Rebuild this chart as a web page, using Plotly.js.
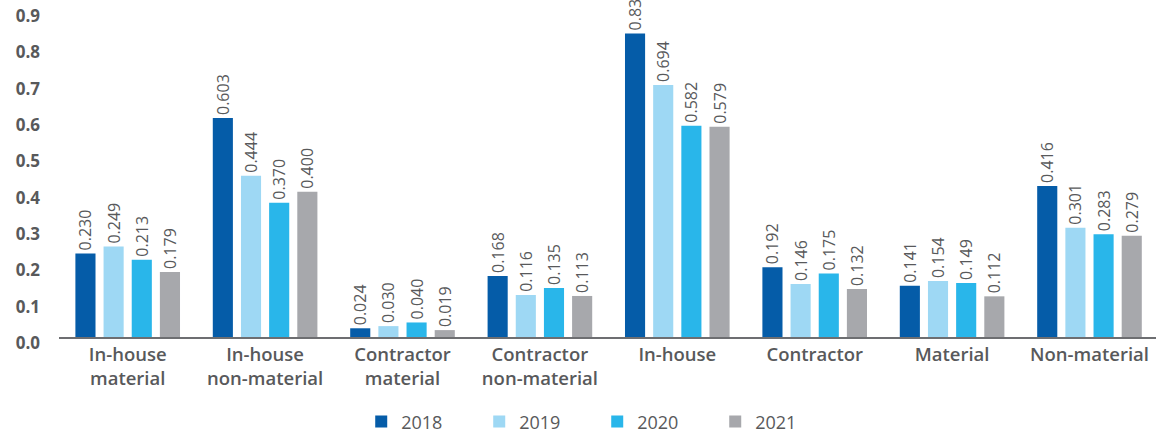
<!DOCTYPE html>
<html>
<head>
<meta charset="utf-8">
<script src="https://cdn.plot.ly/plotly-3.0.1.min.js"></script>
<style>html,body{margin:0;padding:0;background:#fff;}#chart{width:1156px;height:433px;}</style>
</head>
<body>
<div id="chart"></div>
<script>
const categories = ["In-house<br>material", "In-house<br>non-material", "Contractor<br>material", "Contractor<br>non-material", "In-house", "Contractor", "Material", "Non-material"];
const years = ["2018", "2019", "2020", "2021"];
const v2018 = [0.230, 0.603, 0.024, 0.168, 0.836, 0.192, 0.141, 0.416];
const v2019 = [0.249, 0.444, 0.030, 0.116, 0.694, 0.146, 0.154, 0.301];
const v2020 = [0.213, 0.370, 0.040, 0.135, 0.582, 0.175, 0.149, 0.283];
const v2021 = [0.179, 0.400, 0.019, 0.113, 0.579, 0.132, 0.112, 0.279];
const yTicks = [0, 0.1, 0.2, 0.3, 0.4, 0.5, 0.6, 0.7, 0.8, 0.9];

const series = [v2018, v2019, v2020, v2021];
const colors = ["#055ca8", "#9ed8f4", "#29b6ea", "#a7a8ac"];
const txtColor = "#58595b";

const traces = series.map((vals, i) => ({
  type: "bar",
  name: years[i],
  x: categories,
  y: vals,
  marker: {color: colors[i]},
  text: vals.map(v => v.toFixed(3)),
  textposition: "outside",
  textangle: -90,
  constraintext: "none",
  cliponaxis: true,
  outsidetextfont: {family: "Open Sans", size: 16, color: txtColor},
  hoverinfo: "none"
}));

const layout = {
  width: 1156, height: 433,
  margin: {l: 59, r: 0, t: 0, b: 96, autoexpand: false},
  paper_bgcolor: "#fff", plot_bgcolor: "#fff",
  barmode: "group",
  bargap: 0.18,
  bargroupgap: 0.286,
  showlegend: true,
  legend: {
    orientation: "h",
    x: 0.2755, xanchor: "left",
    y: -0.252, yanchor: "middle",
    font: {family: "Open Sans", size: 18, color: txtColor},
    entrywidth: 73, entrywidthmode: "pixels",
    traceorder: "normal"
  },
  xaxis: {
    range: [-0.5, 7.484],
    automargin: false,
    showline: true, linecolor: "#6d6e71", linewidth: 2,
    showgrid: false, zeroline: false, ticks: "",
    tickfont: {family: "Open Sans", size: 18.5, color: txtColor, weight: 600},
    fixedrange: true
  },
  yaxis: {
    range: [0, 0.928],
    automargin: false,
    tickvals: yTicks,
    ticktext: yTicks.map(t => t.toFixed(1)),
    showline: false, showgrid: false, zeroline: false, ticks: "",
    tickfont: {family: "Open Sans", size: 17, color: txtColor, weight: 700},
    ticklabelstandoff: 18,
    ticklabelshift: 6,
    fixedrange: true
  },
  font: {family: "Open Sans", color: txtColor}
};

Plotly.newPlot("chart", traces, layout, {staticPlot: true, displayModeBar: false});
</script>
</body>
</html>
